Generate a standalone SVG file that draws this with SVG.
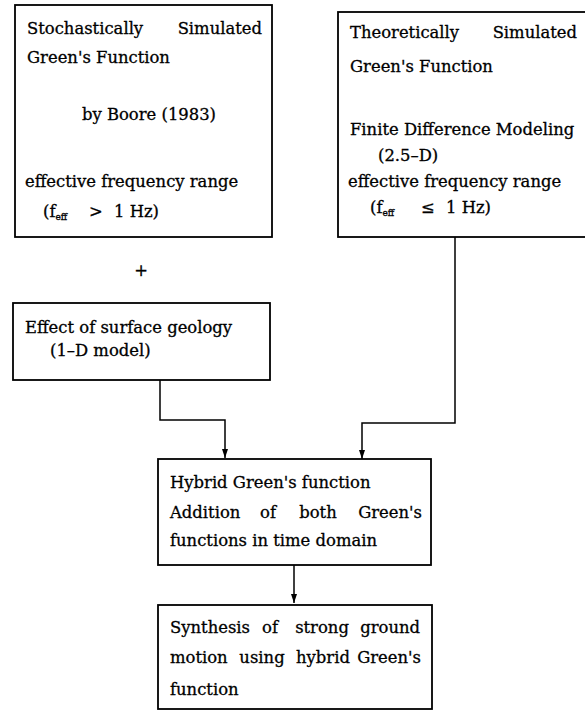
<svg xmlns="http://www.w3.org/2000/svg" width="585" height="711" viewBox="0 0 585 711">
<defs>
<style>
.box{fill:#fff;stroke:#000;stroke-width:1.8}
.t{font-family:"DejaVu Serif","Liberation Serif",serif;font-size:16.4px;fill:#000;stroke:#000;stroke-width:0.3}
.m{text-anchor:middle}
.e{text-anchor:end}
.sub{font-size:9px}
.c{fill:none;stroke:#000;stroke-width:1.5}
</style>
<marker id="arr" markerUnits="userSpaceOnUse" markerWidth="10" markerHeight="8" refX="9" refY="4" orient="auto" viewBox="0 0 10 8">
<path d="M0,1 L9,4 L0,7 Z" fill="#000"/>
</marker>
</defs>
<rect width="585" height="711" fill="#fff"/>
<g id="connectors">
<path class="c" d="M160,380 V420 H225 V458" marker-end="url(#arr)"/>
<path class="c" d="M455,237 V423 H362 V459" marker-end="url(#arr)"/>
<path class="c" d="M294,565 V603" marker-end="url(#arr)"/>
</g>
<g id="stochastic">
<rect class="box" x="15" y="5" width="257" height="232"/>
<text class="t" x="27" y="34">Stochastically</text>
<text class="t e" x="262" y="34">Simulated</text>
<text class="t" x="27" y="63">Green's Function</text>
<text class="t" x="82" y="120">by Boore (1983)</text>
<text class="t" x="25" y="187">effective frequency range</text>
<text class="t" x="43" y="217">(f<tspan class="sub" dy="3">eff</tspan></text>
<text class="t" x="89" y="217">&gt;</text>
<text class="t" x="114" y="217">1 Hz)</text>
</g>
<g id="theoretical">
<rect class="box" x="338" y="12" width="260" height="225"/>
<text class="t" x="350" y="38">Theoretically</text>
<text class="t e" x="577" y="38">Simulated</text>
<text class="t" x="350" y="72">Green's Function</text>
<text class="t" x="350" y="135">Finite Difference Modeling</text>
<text class="t" x="378" y="161">(2.5–D)</text>
<text class="t" x="348" y="187">effective frequency range</text>
<text class="t" x="370" y="213">(f<tspan class="sub" dy="3">eff</tspan></text>
<text class="t" x="421" y="213">≤</text>
<text class="t" x="446" y="213">1 Hz)</text>
</g>
<g id="plus">
<text class="t m" x="141" y="276" font-size="17">+</text>
</g>
<g id="geology">
<rect class="box" x="13" y="303" width="257" height="77"/>
<text class="t" x="25" y="333">Effect of surface geology</text>
<text class="t" x="50" y="356">(1–D model)</text>
</g>
<g id="hybrid">
<rect class="box" x="158" y="459" width="273" height="106"/>
<text class="t" x="170" y="488">Hybrid Green's function</text>
<text class="t" x="170" y="518">Addition</text>
<text class="t m" x="268" y="518">of</text>
<text class="t m" x="318" y="518">both</text>
<text class="t e" x="422" y="518">Green's</text>
<text class="t" x="170" y="546">functions in time domain</text>
</g>
<g id="synthesis">
<rect class="box" x="158" y="605" width="274" height="104"/>
<text class="t" x="170" y="633">Synthesis</text>
<text class="t m" x="270" y="633">of</text>
<text class="t m" x="322" y="633">strong</text>
<text class="t e" x="420" y="633">ground</text>
<text class="t" x="170" y="663">motion</text>
<text class="t m" x="262" y="663">using</text>
<text class="t m" x="323" y="663">hybrid</text>
<text class="t e" x="421" y="663">Green's</text>
<text class="t" x="170" y="695">function</text>
</g>
</svg>
